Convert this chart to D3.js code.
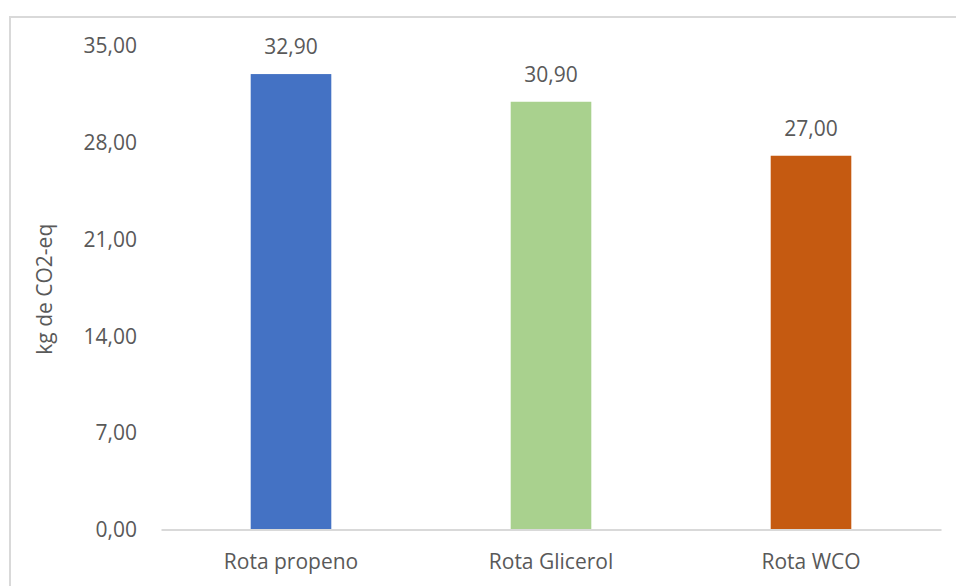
<!DOCTYPE html>
<html>
<head>
<meta charset="utf-8">
<script src="https://cdn.jsdelivr.net/npm/d3@7"></script>
<style>
  html, body { margin: 0; padding: 0; background: #fff; }
  svg { display: block; }
  text { font-family: "Open Sans", "Noto Sans", sans-serif; fill: #595959; }
</style>
</head>
<body>
<svg id="chart" width="956" height="586"></svg>
<script>
// Emissions per production route (kg CO2-eq)
const categories = ["Rota propeno", "Rota Glicerol", "Rota WCO"];
const values = [32.90, 30.90, 27.00];
const barColors = ["#4472C4", "#A9D18E", "#C55A11"];
const yTicks = [0, 7, 14, 21, 28, 35];
const yTitle = "kg de CO2-eq";

const svg = d3.select("#chart");
const W = 956, H = 586;
const plot = { left: 161, right: 941, top: 45, bottom: 529.5 };
const fontSize = 21;

const fmt = v => v.toFixed(2).replace(".", ",");

// chart frame (top and left edges of the chart area)
svg.append("path")
  .attr("d", `M10,${H} L10,17 L${W},17`)
  .attr("fill", "none")
  .attr("stroke", "#D9D9D9")
  .attr("stroke-width", 2);

const x = d3.scaleBand()
  .domain(categories)
  .range([plot.left, plot.right])
  .paddingInner(0.69)
  .paddingOuter(0.345);

const y = d3.scaleLinear()
  .domain([0, 35])
  .range([plot.bottom, plot.top]);

// y tick labels
const yAxis = d3.axisLeft(y)
  .tickValues(yTicks)
  .tickFormat(fmt)
  .tickSize(0)
  .tickPadding(0);
const yG = svg.append("g")
  .attr("transform", `translate(137,0)`)
  .call(yAxis);
yG.select(".domain").remove();
yG.selectAll("text")
  .attr("font-size", fontSize)
  .attr("font-family", null)
  .attr("fill", "#595959")
  .attr("dy", "0.35em");

// bars
svg.append("g").selectAll("rect")
  .data(values)
  .join("rect")
  .attr("x", (d, i) => x(categories[i]))
  .attr("width", x.bandwidth())
  .attr("y", d => y(d))
  .attr("height", d => y(0) - y(d))
  .attr("fill", (d, i) => barColors[i]);

// baseline / category axis
const xAxis = d3.axisBottom(x).tickSize(0).tickPadding(0);
const xG = svg.append("g")
  .attr("transform", `translate(0,${y(0)})`)
  .call(xAxis);
xG.select(".domain")
  .attr("stroke", "#D9D9D9")
  .attr("stroke-width", 2);
xG.selectAll("text")
  .attr("font-size", fontSize)
  .attr("font-family", null)
  .attr("fill", "#595959")
  .attr("y", 32)
  .attr("dy", "0.35em");

// value labels
svg.append("g").selectAll("text")
  .data(values)
  .join("text")
  .attr("x", (d, i) => x(categories[i]) + x.bandwidth() / 2)
  .attr("y", d => y(d) - 27)
  .attr("dy", "0.35em")
  .attr("text-anchor", "middle")
  .attr("font-size", fontSize)
  .text(fmt);

// y axis title
svg.append("text")
  .attr("transform", `translate(45,${(plot.top + plot.bottom) / 2 + 2}) rotate(-90)`)
  .attr("text-anchor", "middle")
  .attr("dy", "0.35em")
  .attr("font-size", fontSize)
  .text(yTitle);
</script>
</body>
</html>
